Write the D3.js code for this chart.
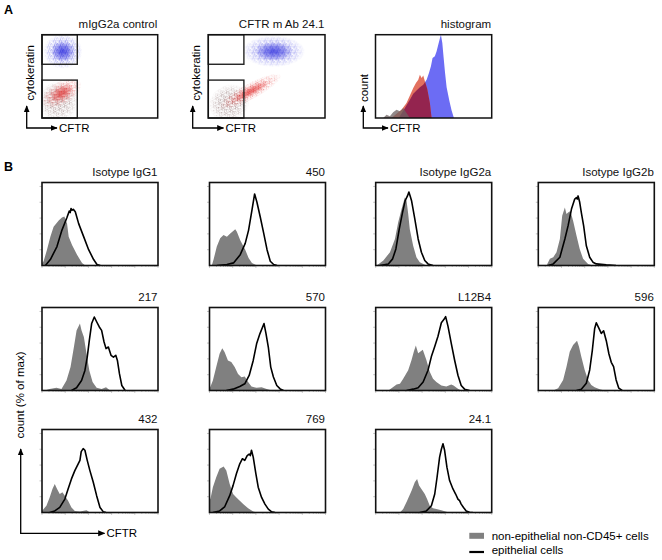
<!DOCTYPE html>
<html>
<head>
<meta charset="utf-8">
<script src="https://cdn.jsdelivr.net/npm/d3@7/dist/d3.min.js"></script>
<style>
  body { margin: 0; background: #fff; }
  svg { display: block; font-family: "Liberation Sans", Arial, sans-serif; }
</style>
</head>
<body>
<svg id="fig" width="662" height="560"></svg>
<script>
// ---- panel A: scatter clouds [cx, cy, rx, ry, angle] in box units (0-100)
const isoEpiCloud = [18, 80, 17, 21, 0];
const isoNonEpiCloud = [17, 30, 19, 14, -30];
const isoSparseCloud = [14, 20, 17, 24, -30];
const cftrEpiCloud = [56, 80, 27, 19, 0];
const cftrNonEpiCloud = [36, 32, 30, 10, -28];
const cftrSparseCloud = [18, 18, 18, 22, -30];
// gates [x0, x1, y0, y1]
const gateEpi = [0, 30.5, 64.5, 100];
const gateNonEpi = [0, 30.5, 0, 45.5];

// ---- panel A: histogram, [CFTR, count %]
const histGrey = [[6.6, 0], [9.5, 4], [12.4, 2], [15.2, 7], [18.1, 10], [21, 8], [23.9, 12], [26.7, 6], [29.6, 0]];
const histRed = [[13.8, 0], [18.1, 5], [22.4, 10], [26.7, 18], [29.6, 27], [32.5, 36], [34.8, 42], [36.8, 46],
  [38.2, 52], [39.7, 48], [41.1, 51], [42.5, 44], [44.5, 35], [46.8, 18], [48.3, 0]];
const histBlue = [[20, 0], [24, 9], [27, 16], [29.6, 22], [32.5, 29], [35.3, 33], [38.2, 37], [41.1, 40],
  [44, 46], [46, 54], [47.7, 62], [49.1, 72], [51.1, 74], [52.6, 80], [54, 88], [55.5, 96], [56.3, 100],
  [57.5, 90], [58.6, 73], [59.8, 55], [61.2, 37], [63.5, 21], [65.5, 9], [67.5, 0]];

// ---- panel B: titles and histograms, [CFTR, count (% of max)]
const titlesB = ['Isotype IgG1', '450', 'Isotype IgG2a', 'Isotype IgG2b', '217', '570', 'L12B4', '596', '432', '769', '24.1'];

const igg1Grey = [[0, 3], [1.4, 5.4], [4.3, 20], [7.2, 36.5], [10, 49], [14.4, 57], [17.2, 60.6], [19.3, 62],
  [21.6, 53], [23, 36.5], [25.9, 26], [30.2, 13.7], [34.5, 3.3], [37.4, 0]];
const igg1Black = [[2.9, 0], [7.2, 7.5], [12.9, 24], [17.2, 44.8], [21.6, 61], [23.5, 69], [24.3, 67], [25, 72],
  [26, 70], [27, 71], [28.7, 68], [31.6, 53], [35.9, 36.5], [40.2, 20], [44.5, 7.5], [47.4, 1.2], [50.3, 0]];

const mab450Grey = [[2, 0], [3.5, 7.5], [6.3, 24], [9.2, 34.4], [12.1, 38.6], [15, 36.5], [17.9, 40.6],
  [22.2, 46], [23.6, 42.7], [26.5, 32], [30.8, 19.9], [33.7, 9.5], [36.6, 3.3], [40.9, 0]];
const mab450Black = [[6.3, 0], [15, 1.2], [20.7, 3.3], [26.5, 13.7], [30.8, 28], [33.7, 44.8], [36.6, 70],
  [38.9, 90.5], [40.9, 80], [43.8, 61], [46.7, 41], [49.6, 20], [52.4, 5.4], [55.3, 1.2], [58.2, 0]];

const igg2aGrey = [[0.9, 0], [6.6, 6.3], [12.3, 16.8], [16.6, 33.6], [19.4, 54.6], [22.3, 71.4], [25.1, 86],
  [26.6, 82], [28, 65.5], [29.4, 46], [32.3, 25], [35.1, 10.5], [38, 4.2], [43.7, 0]];
const igg2aBlack = [[3.7, 0], [10.9, 2], [14.6, 8.4], [17.4, 21], [20.3, 46], [23.1, 67], [25.4, 82], [27.4, 88],
  [28.6, 93], [29.7, 88], [30.9, 82], [33.7, 59], [36.6, 33.6], [39.4, 16.8], [42.3, 6.3], [45.1, 2], [49.4, 0]];

const igg2bGrey = [[7.1, 0], [10, 8.4], [12.9, 10.5], [15.7, 16.8], [18.6, 33.6], [20.6, 63], [22.9, 73.5],
  [24.3, 65], [25.7, 67], [27.7, 69], [30, 56.7], [32.9, 37.8], [35.7, 21], [38.6, 8.4], [42.9, 2], [47.1, 0]];
const igg2bBlack = [[8.6, 0], [12.9, 2], [18.6, 10.5], [22.9, 33.6], [25.7, 50.4], [28.6, 71.4], [31.4, 84],
  [32.9, 86], [33.6, 84], [34.3, 88], [35.7, 80], [37.1, 67], [39.1, 50], [41.4, 25], [44.3, 10.5], [47.1, 4.2],
  [50, 2], [58.6, 0.8], [67, 0]];

const mab217Grey = [[2.3, 0], [6.6, 2], [12.4, 3.4], [16.8, 2], [21.1, 12.7], [24.6, 29.6], [27.5, 55],
  [29.8, 76], [32.7, 84.7], [34.1, 76], [36.1, 67.7], [38.4, 46.6], [40.8, 25.4], [43.6, 10.6], [47.1, 3.4],
  [51.4, 2], [55.2, 4.2], [58.7, 0]];
const mab217Black = [[25.4, 0], [29.8, 3.4], [34.1, 12.7], [37, 25.4], [39, 42.3], [40.8, 63.5], [42.8, 84.7],
  [45.1, 93], [47.1, 87], [49.4, 80.4], [51.4, 76], [53.5, 61.4], [55.2, 53], [57.2, 55], [59.5, 44.5],
  [61.6, 42.3], [63.6, 44.5], [65, 38], [66.8, 21], [68.8, 6.3], [71.7, 0]];

const mab570Grey = [[0, 2], [2.9, 12.7], [5.8, 29.6], [8.7, 46.6], [11, 53.3], [13, 48.7], [15.9, 38],
  [18.8, 36], [21.7, 29.6], [24.6, 21], [27.5, 16.9], [30.4, 17.8], [33.3, 10.6], [36.2, 5], [40.6, 3.4],
  [44.9, 4.2], [49.3, 2], [53.6, 0]];
const mab570Black = [[14.5, 0], [20.3, 1.7], [26.1, 5], [30.4, 8.5], [34.2, 19], [37.7, 38], [40.6, 59],
  [43.5, 72], [47, 84.7], [48.7, 72], [50.7, 55], [52.8, 29.6], [55.1, 17], [58, 6.3], [60.9, 2], [63.8, 0]];

const l12b4Grey = [[10.9, 0], [15.1, 4.3], [18, 7.7], [20.9, 8.6], [23.7, 15], [28, 25.7], [30.9, 38.6],
  [32.9, 49.3], [34.6, 57], [36.6, 47], [38.6, 49.3], [40.6, 51.4], [43.7, 38.6], [46.6, 23.6], [49.4, 15],
  [52.3, 10.7], [56.6, 6.4], [60.9, 5.1], [65.1, 7.7], [67.1, 6.4], [70.9, 2.1], [73.7, 0]];
const l12b4Black = [[26.6, 0], [32.3, 1.7], [36.6, 3.4], [40.9, 10.7], [45.1, 25.7], [48, 42.9], [50.9, 55.7],
  [53.7, 68.6], [56.6, 85.7], [58.9, 90], [60.3, 93.4], [62.3, 81.4], [65.1, 60], [68, 38.6], [70.9, 19.3],
  [73.7, 6.4], [76.6, 1.7], [80.9, 0]];

const mab596Grey = [[12.9, 0], [17.1, 2.9], [21.4, 13.4], [24.3, 30.2], [27.1, 49], [30, 57.5], [33.4, 63],
  [35.1, 55.4], [37.1, 42.8], [40, 26], [42.9, 13.4], [45.7, 7.1], [48.6, 4.2], [52.9, 1.7], [57.1, 0]];
const mab596Black = [[32.9, 0], [37.1, 1.7], [41.4, 9.2], [44.3, 26], [46.6, 51.2], [48.6, 78.5], [50, 85.7],
  [52.3, 78.5], [54.3, 72.2], [56.3, 75.6], [58.6, 63], [60.9, 46.2], [62.9, 35.7], [64.9, 30.2], [67.1, 13.4],
  [69.4, 2.9], [72.3, 0]];

const mab432Grey = [[0, 2], [3.8, 8.5], [6.6, 19], [9, 29.8], [11, 36], [13, 29.8], [15.3, 23.4], [17.6, 25.5],
  [19.7, 21.3], [22.5, 15], [25.4, 6.4], [28.3, 2], [32.7, 1.3], [38.4, 3], [41.3, 0]];
const mab432Black = [[6.6, 0], [11, 2], [15.3, 6.4], [19.7, 17], [22.5, 29.8], [25.4, 42.5], [28.3, 53],
  [31.2, 61.6], [32.7, 66], [33.8, 77], [35.5, 80.8], [37, 78.7], [39, 66], [41.3, 53], [44.2, 38.3],
  [47.1, 21.3], [50, 6.4], [52.9, 0.8], [55.2, 0]];

const mab769Grey = [[0, 15], [0.9, 18], [2.9, 32], [5.8, 44.6], [8.7, 55.3], [12.2, 58.2], [14.5, 53],
  [17.4, 36], [20.3, 23.4], [23.2, 19], [26.1, 15], [29, 10.6], [33.3, 5.5], [37.7, 1.3], [40.6, 0]];
const mab769Black = [[2.9, 0], [8.7, 2], [13, 7], [17.4, 21.3], [20.3, 34], [23.2, 49], [26.1, 61.6],
  [28.4, 68], [30.4, 66], [32.5, 72], [34.2, 74], [35.2, 72], [36.2, 78.7], [37.7, 70], [40, 49], [42, 32],
  [44.9, 19], [47.8, 10.6], [50.7, 4.2], [53.6, 0.8], [56.5, 0]];

const mab241Grey = [[20.9, 0], [23.7, 4.3], [27.1, 14.9], [30.9, 27.6], [33.7, 38.3], [35.7, 42.5],
  [37.4, 34], [39.4, 29.8], [42.3, 23.4], [44.3, 17], [46.6, 8.5], [49.4, 5.5], [52.3, 4.3], [56.6, 3],
  [60.9, 0.8], [63.7, 0]];
const mab241Black = [[38, 0], [43.7, 2], [48, 8.5], [50.9, 23.4], [52.9, 44.6], [55.1, 70], [56.6, 80],
  [58, 87], [59.4, 78.7], [61.4, 57.4], [63.7, 40.4], [66.6, 29.8], [68.9, 23.4], [70.9, 17], [72.3, 15],
  [73.7, 10.6], [75.7, 6.4], [78, 2], [80.9, 0.4], [83.7, 0]];

const greyB = [igg1Grey, mab450Grey, igg2aGrey, igg2bGrey, mab217Grey, mab570Grey, l12b4Grey, mab596Grey,
  mab432Grey, mab769Grey, mab241Grey];
const blackB = [igg1Black, mab450Black, igg2aBlack, igg2bBlack, mab217Black, mab570Black, l12b4Black,
  mab596Black, mab432Black, mab769Black, mab241Black];

const legendLabels = ['non-epithelial non-CD45+ cells', 'epithelial cells'];

// ---------------------------------------------------------------
const svg = d3.select('#fig');
const defs = svg.append('defs');
const FONT = '11.5px';

defs.append('marker')
  .attr('id', 'arrow')
  .attr('viewBox', '0 0 10 10')
  .attr('refX', 9).attr('refY', 5)
  .attr('markerUnits', 'userSpaceOnUse')
  .attr('markerWidth', 7).attr('markerHeight', 7)
  .attr('orient', 'auto-start-reverse')
  .append('path').attr('d', 'M0,0.8L10,5L0,9.2z').attr('fill', '#000');

// fade mask for the dot clouds
const fade = defs.append('radialGradient').attr('id', 'fadeGrad');
fade.append('stop').attr('offset', 0).attr('stop-color', '#fff');
fade.append('stop').attr('offset', 0.55).attr('stop-color', '#c8c8c8');
fade.append('stop').attr('offset', 0.8).attr('stop-color', '#666');
fade.append('stop').attr('offset', 1).attr('stop-color', '#000');
defs.append('mask').attr('id', 'fadeMask').attr('maskContentUnits', 'objectBoundingBox')
  .append('rect').attr('width', 1).attr('height', 1).attr('fill', 'url(#fadeGrad)');

// hand-placed speckle tile (style only)
const dotTile = [[0.5, 0.7], [3.2, 0.3], [1.8, 2.4], [4.6, 2.9], [0.2, 4.1], [2.9, 4.8], [5.1, 5.3],
  [4.0, 1.4], [1.2, 5.6], [3.7, 3.6], [5.6, 0.9], [2.2, 1.1]];
const cloudColors = { blue: '#2323dc', red: '#e02a2a', grey: '#806060' };
Object.entries(cloudColors).forEach(([name, col]) => {
  const p = defs.append('pattern').attr('id', `dots-${name}`)
    .attr('patternUnits', 'userSpaceOnUse').attr('width', 6).attr('height', 6);
  p.selectAll('rect').data(dotTile).join('rect')
    .attr('x', (d) => d[0]).attr('y', (d) => d[1])
    .attr('width', 0.9).attr('height', 0.9).attr('fill', col);
  const g = defs.append('radialGradient').attr('id', `core-${name}`);
  g.append('stop').attr('offset', 0).attr('stop-color', col).attr('stop-opacity', 0.9);
  g.append('stop').attr('offset', 0.5).attr('stop-color', col).attr('stop-opacity', 0.55);
  g.append('stop').attr('offset', 1).attr('stop-color', col).attr('stop-opacity', 0);
});

function arrows(xv, yh, top, right, label, labelV, labelVy, labelVx) {
  svg.append('path')
    .attr('d', `M${xv},${top}V${yh}H${right}`)
    .attr('fill', 'none').attr('stroke', '#000').attr('stroke-width', 1.3)
    .attr('marker-start', 'url(#arrow)').attr('marker-end', 'url(#arrow)');
  svg.append('text').attr('x', right + 2).attr('y', yh + 4)
    .attr('font-size', FONT).text(label);
  svg.append('text')
    .attr('transform', `translate(${labelVx},${labelVy}) rotate(-90)`)
    .attr('text-anchor', 'middle').attr('font-size', FONT).text(labelV);
}

function title(x1, y0, t) {
  svg.append('text').attr('x', x1 - 0.5).attr('y', y0 - 6.3)
    .attr('text-anchor', 'end').attr('font-size', FONT).attr('fill', '#111').text(t);
}

// panel letters
svg.append('text').attr('x', 4).attr('y', 13.5).attr('font-size', '12.5px').attr('font-weight', 'bold').text('A');
svg.append('text').attr('x', 4).attr('y', 171).attr('font-size', '12.5px').attr('font-weight', 'bold').text('B');

// ---- panel A scatter plots
const aTop = 34.7, aH = 83.3;
function scatterPlot(x0, w, clouds, t) {
  const x = d3.scaleLinear().domain([0, 100]).range([x0, x0 + w]);
  const y = d3.scaleLinear().domain([0, 100]).range([aTop + aH, aTop]);
  const clipId = `clip-s${Math.round(x0)}`;
  defs.append('clipPath').attr('id', clipId)
    .append('rect').attr('x', x0).attr('y', aTop).attr('width', w).attr('height', aH);
  const g = svg.append('g').attr('clip-path', `url(#${clipId})`);
  clouds.forEach(([c, name, core]) => {
    const rx = (x(c[2]) - x(0));
    const ry = (y(0) - y(c[3]));
    const cg = g.append('g').attr('transform', `translate(${x(c[0])},${y(c[1])}) rotate(${c[4]})`);
    cg.append('ellipse').attr('rx', rx).attr('ry', ry)
      .attr('fill', `url(#dots-${name})`).attr('mask', 'url(#fadeMask)');
    if (core) {
      cg.append('ellipse').attr('rx', rx * 0.6).attr('ry', ry * 0.6)
        .attr('fill', `url(#core-${name})`).attr('opacity', core);
    }
  });
  [gateEpi, gateNonEpi].forEach((gt) => {
    svg.append('rect')
      .attr('x', x(gt[0])).attr('y', y(gt[3]))
      .attr('width', x(gt[1]) - x(gt[0])).attr('height', y(gt[2]) - y(gt[3]))
      .attr('fill', 'none').attr('stroke', '#222').attr('stroke-width', 1.4);
  });
  svg.append('rect').attr('x', x0).attr('y', aTop).attr('width', w).attr('height', aH)
    .attr('fill', 'none').attr('stroke', '#111').attr('stroke-width', 1.5);
  title(x0 + w, aTop, t);
}

scatterPlot(42, 115.7, [[isoSparseCloud, 'grey', 0], [isoNonEpiCloud, 'red', 0.75], [isoEpiCloud, 'blue', 0.85]], 'mIgG2a control');
scatterPlot(208.3, 116.7, [[cftrSparseCloud, 'grey', 0], [cftrNonEpiCloud, 'red', 0.75], [cftrEpiCloud, 'blue', 0.8]], 'CFTR m Ab 24.1');
arrows(26.7, 128, 106, 57, 'CFTR', 'cytokeratin', 73, 33.5);
arrows(192.7, 128, 106, 223.5, 'CFTR', 'cytokeratin', 73, 199.5);

// ---- panel A histogram
{
  const x0 = 375.5, w = 116.2;
  const x = d3.scaleLinear().domain([0, 100]).range([x0, x0 + w]);
  const y = d3.scaleLinear().domain([0, 100]).range([aTop + aH, aTop]);
  const area = d3.area().x((d) => x(d[0])).y0(y(0)).y1((d) => y(d[1]));
  defs.append('clipPath').attr('id', 'clip-blue').append('path').attr('d', area(histBlue));
  svg.append('path').attr('d', area(histBlue)).attr('fill', '#6c6cf4');
  svg.append('path').attr('d', area(histRed)).attr('fill', '#e2705f');
  svg.append('path').attr('d', area(histRed)).attr('fill', '#94244f').attr('clip-path', 'url(#clip-blue)');
  svg.append('path').attr('d', area(histGrey)).attr('fill', '#6e6262').attr('opacity', 0.75);
  svg.append('rect').attr('x', x0).attr('y', aTop).attr('width', w).attr('height', aH)
    .attr('fill', 'none').attr('stroke', '#111').attr('stroke-width', 1.5);
  title(x0 + w, aTop, 'histogram');
  arrows(363.3, 128, 106, 388, 'CFTR', 'count', 88, 367.5);
}

// ---- panel B histograms
const colX = [42, 209.5, 375.7, 538.3];
const rowY = [182.5, 307.5, 429.5];
const boxW = 116, boxH = 83;

titlesB.forEach((t, i) => {
  const x0 = colX[i % 4];
  const y0 = rowY[Math.floor(i / 4)];
  const x = d3.scaleLinear().domain([0, 100]).range([x0, x0 + boxW]);
  const y = d3.scaleLinear().domain([0, 105]).range([y0 + boxH, y0]);
  const xLog = d3.scaleLog().domain([1, 1e5]).range([x0, x0 + boxW]);

  const clipId = `clip-b${i}`;
  defs.append('clipPath').attr('id', clipId)
    .append('rect').attr('x', x0).attr('y', y0).attr('width', boxW).attr('height', boxH);
  const g = svg.append('g').attr('clip-path', `url(#${clipId})`);

  const area = d3.area().x((d) => x(d[0])).y0(y(0)).y1((d) => y(d[1]));
  const line = d3.line().x((d) => x(d[0])).y((d) => y(d[1]));
  g.append('path').attr('d', area(greyB[i])).attr('fill', '#808080');
  g.append('path').attr('d', line(blackB[i]))
    .attr('fill', 'none').attr('stroke', '#000').attr('stroke-width', 1.6).attr('stroke-linejoin', 'round');

  // faint tick marks
  svg.append('g').selectAll('line').data([20, 40, 60, 80, 100]).join('line')
    .attr('x1', x0 - 2.5).attr('x2', x0).attr('y1', (d) => y(d)).attr('y2', (d) => y(d))
    .attr('stroke', '#999').attr('stroke-width', 0.6);
  svg.append('g').selectAll('line').data(xLog.ticks()).join('line')
    .attr('x1', (d) => xLog(d)).attr('x2', (d) => xLog(d))
    .attr('y1', y0 + boxH).attr('y2', (d) => y0 + boxH + (Math.log10(d) % 1 === 0 ? 2.5 : 1.5))
    .attr('stroke', '#aaa').attr('stroke-width', 0.6);

  svg.append('rect').attr('x', x0).attr('y', y0).attr('width', boxW).attr('height', boxH)
    .attr('fill', 'none').attr('stroke', '#111').attr('stroke-width', 1.6);
  title(x0 + boxW, y0, t);
});

arrows(20.7, 533.3, 449, 104.5, 'CFTR', 'count (% of max)', 395, 23.8);

// legend
const leg = svg.append('g').attr('font-size', FONT);
leg.append('rect').attr('x', 469.3).attr('y', 532.8).attr('width', 14.7).attr('height', 6).attr('fill', '#808080');
leg.append('line').attr('x1', 469.3).attr('x2', 484).attr('y1', 552).attr('y2', 552)
  .attr('stroke', '#000').attr('stroke-width', 2.2);
leg.selectAll('text').data(legendLabels).join('text')
  .attr('x', 491.7).attr('y', (d, i) => 539.8 + i * 14.6).text((d) => d);
</script>
</body>
</html>
